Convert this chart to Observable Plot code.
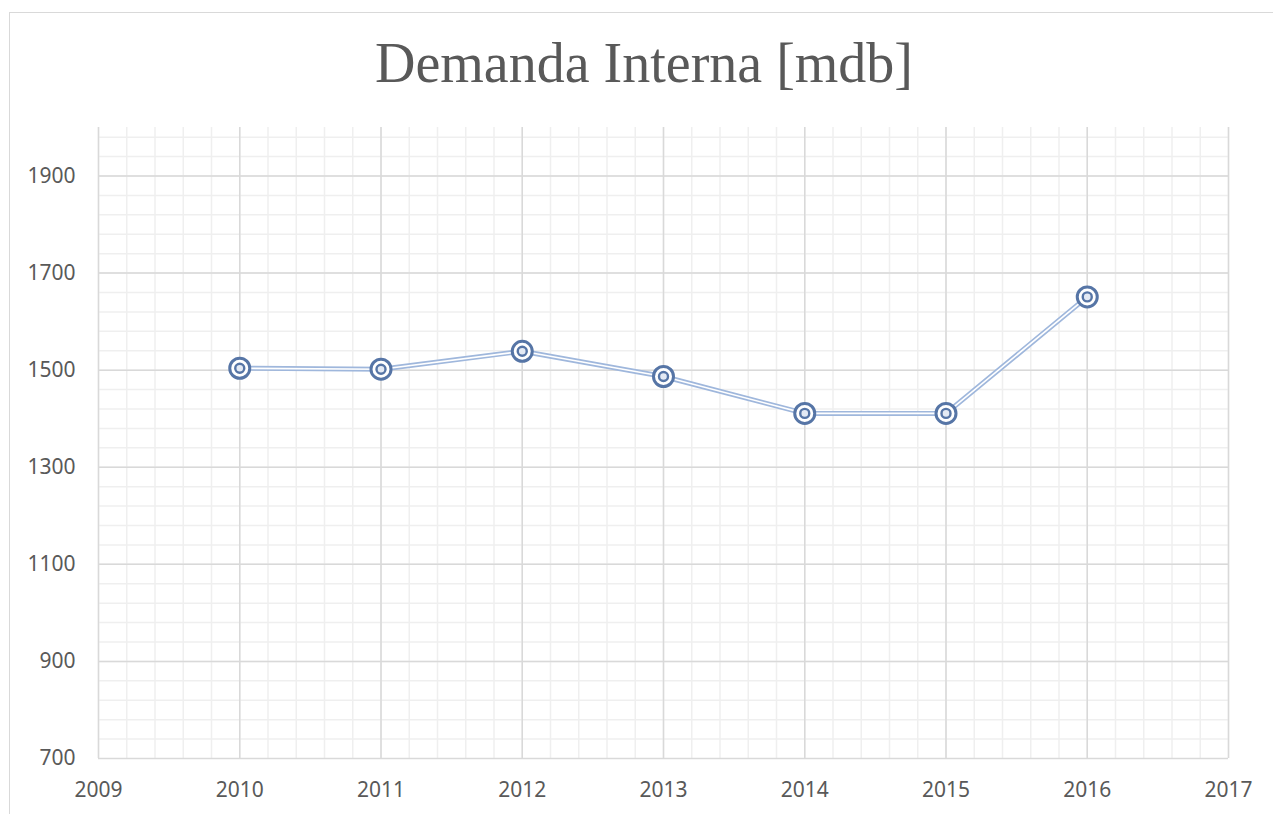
<!DOCTYPE html>
<html>
<head>
<meta charset="utf-8">
<script src="https://cdn.jsdelivr.net/npm/d3@7"></script>
<script src="https://cdn.jsdelivr.net/npm/@observablehq/plot@0.6"></script>
<style>
  html, body { margin: 0; padding: 0; background: #fff; }
  #wrap { position: relative; width: 1273px; height: 814px; overflow: hidden; background: #fff; }
  #frame { position: absolute; left: 9px; top: 12px; width: 1300px; height: 900px; border: 1.5px solid #d9d9d9; box-sizing: border-box; }
  #title { position: absolute; left: 0; width: 1288px; top: 31px; text-align: center;
           font-family: "Liberation Serif", serif; font-size: 56px; line-height: 64px; color: #595959; }
  #chart { position: absolute; left: 0; top: 110px; }
</style>
</head>
<body>
<div id="wrap">
  <div id="frame"></div>
  <div id="title">Demanda Interna [mdb]</div>
  <div id="chart"></div>
</div>
<script>
const years = [2010, 2011, 2012, 2013, 2014, 2015, 2016];
const demanda = [1504, 1502, 1539, 1487, 1411, 1411, 1651];
const xTicks = [2009, 2010, 2011, 2012, 2013, 2014, 2015, 2016, 2017];
const yTicks = [700, 900, 1100, 1300, 1500, 1700, 1900];

const data = years.map((y, i) => ({year: y, value: demanda[i]}));
const minorY = d3.range(740, 2000, 40);
const minorX = d3.range(0, 41).map(i => 2009 + i / 5);

const lineColor = "#9fb7dc";
const markColor = "#5675a6";

const plot = Plot.plot({
  width: 1273,
  height: 704,
  marginLeft: 98,
  marginRight: 45,
  marginTop: 17,
  marginBottom: 56,
  style: { fontFamily: "'Noto Sans', sans-serif", fontSize: "21px", color: "#595959", background: "transparent" },
  x: { domain: [2009, 2017], label: null },
  y: { domain: [700, 2000], label: null },
  marks: [
    Plot.gridX(minorX, { stroke: "#efefef", strokeOpacity: 1, strokeWidth: 1.5 }),
    Plot.gridY(minorY, { stroke: "#efefef", strokeOpacity: 1, strokeWidth: 1.5 }),
    Plot.gridX(xTicks, { stroke: "#d9d9d9", strokeOpacity: 1, strokeWidth: 1.5 }),
    Plot.gridY(yTicks, { stroke: "#d9d9d9", strokeOpacity: 1, strokeWidth: 1.5 }),
    Plot.axisY(yTicks, { tickSize: 0, tickPadding: 23, fontSize: 21, tickFormat: d => String(d) }),
    Plot.axisX(xTicks, { tickSize: 0, tickPadding: 24, fontSize: 21, tickFormat: d => String(d) }),
    Plot.line(data, { x: "year", y: "value", stroke: lineColor, strokeWidth: 5 }),
    Plot.line(data, { x: "year", y: "value", stroke: "#ffffff", strokeWidth: 1.6 }),
    Plot.dot(data, { x: "year", y: "value", r: 10, stroke: markColor, strokeWidth: 3, fill: "#ffffff" }),
    Plot.dot(data, { x: "year", y: "value", r: 4.5, stroke: markColor, strokeWidth: 2.4, fill: "#e4eaf4" })
  ]
});
document.getElementById("chart").appendChild(plot);
</script>
</body>
</html>
